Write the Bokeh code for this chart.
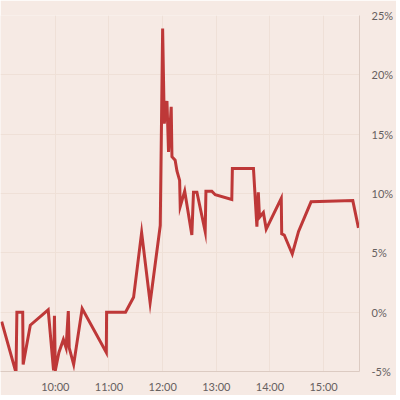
import pandas as pd
from bokeh.plotting import figure
from bokeh.models import FixedTicker, PrintfTickFormatter, DatetimeTickFormatter, Range1d
from bokeh.embed import file_html
from bokeh.resources import INLINE

# Intraday change (%)
times = [
    "09:00:00", "09:16:00", "09:17:00", "09:23:30", "09:24:00", "09:32:00", "09:52:00",
    "09:58:00", "09:59:00", "10:00:00", "10:04:00", "10:09:00", "10:12:00", "10:14:30",
    "10:15:30", "10:20:30", "10:30:00", "10:57:00", "10:57:20", "11:18:30", "11:27:30",
    "11:36:30", "11:46:00", "11:57:20", "12:00:00", "12:01:50", "12:04:50", "12:06:35",
    "12:09:35", "12:10:25", "12:14:00", "12:16:00", "12:19:00", "12:19:40", "12:24:40",
    "12:32:40", "12:34:30", "12:38:20", "12:47:35", "12:48:25", "12:55:00", "12:58:50",
    "13:17:20", "13:18:00", "13:41:35", "13:45:25", "13:47:00", "13:48:20", "13:52:40",
    "13:55:50", "14:12:40", "14:13:10", "14:16:00", "14:25:00", "14:32:00", "14:46:00",
    "15:32:40", "15:39:00",
]
change_pct = [
    -0.8, -5.1, 0.0, 0.0, -4.4, -1.1, 0.2,
    -4.9, -0.3, -4.9, -3.4, -2.3, -3.0, 0.1,
    -3.0, -4.4, 0.3, -3.4, 0.0, 0.0, 1.25,
    6.7, 0.8, 7.3, 23.9, 15.9, 17.8, 13.5,
    17.3, 13.1, 12.8, 11.9, 11.1, 8.9, 10.2,
    6.5, 10.1, 10.1, 6.8, 10.2, 10.2, 9.9,
    9.5, 12.1, 12.1, 7.2, 10.1, 8.0, 8.4,
    7.0, 9.6, 6.6, 6.5, 4.9, 6.8, 9.3,
    9.4, 7.1,
]
hour_ticks = ["10:00", "11:00", "12:00", "13:00", "14:00", "15:00"]
pct_ticks = [-5, 0, 5, 10, 15, 20, 25]

day = "2020-01-01 "
x = pd.to_datetime([day + t for t in times])
xticks = [pd.Timestamp(day + t).value / 1e6 for t in hour_ticks]

bg = "#f6eae4"
p = figure(
    x_axis_type="datetime", y_axis_location="right",
    frame_width=359, frame_height=356,
    min_border_left=0, min_border_top=15, min_border_right=33, min_border_bottom=21,
    output_backend="svg", toolbar_location=None,
    background_fill_color=bg, border_fill_color=bg,
)
p.x_range = Range1d(pd.Timestamp(day + "08:58:40"), pd.Timestamp(day + "15:40:10"))
p.y_range = Range1d(-5, 25)
p.outline_line_color = None

p.line(x, change_pct, line_color="#be3838", line_width=3, line_join="miter")

p.xaxis.ticker = FixedTicker(ticks=xticks)
p.xaxis.formatter = DatetimeTickFormatter(hours="%H:%M", minutes="%H:%M", hourmin="%H:%M")
p.yaxis.ticker = FixedTicker(ticks=pct_ticks)
p.yaxis.formatter = PrintfTickFormatter(format="%d%%")

for ax in (p.xaxis[0], p.yaxis[0]):
    ax.axis_line_color = "#dccbc2"
    ax.axis_line_width = 1
    ax.major_tick_line_color = None
    ax.minor_tick_line_color = None
    ax.major_label_text_font = "Lato"
    ax.major_label_text_font_size = "11px"
    ax.major_label_text_color = "#666060"
p.xaxis.major_label_standoff = 2
p.yaxis.major_label_standoff = 6

p.xgrid.ticker = FixedTicker(ticks=xticks)
p.ygrid.ticker = FixedTicker(ticks=pct_ticks)
p.grid.grid_line_color = "#efe0d7"
p.grid.grid_line_width = 1

open("out.html", "w").write(file_html(p, INLINE))
